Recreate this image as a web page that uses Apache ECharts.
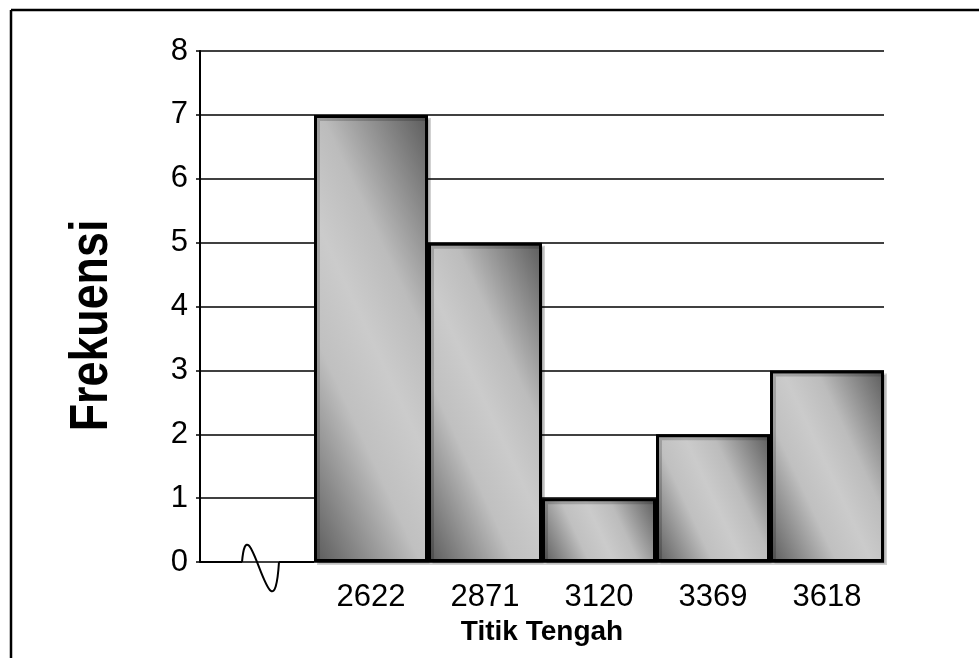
<!DOCTYPE html>
<html>
<head>
<meta charset="utf-8">
<script src="https://cdn.jsdelivr.net/npm/echarts@6/dist/echarts.min.js"></script>
<style>
html,body{margin:0;padding:0;background:#fff;}
#c{width:979px;height:658px;}
</style>
</head>
<body>
<div id="c"></div>
<script>
// Data
const categories = ['', '2622', '2871', '3120', '3369', '3618'];
const frequencies = ['-', 7, 5, 1, 2, 3];
const yTicks = [0, 1, 2, 3, 4, 5, 6, 7, 8];
const xTitle = 'Titik Tengah';
const yTitle = 'Frekuensi';

const W = 979, H = 658;
const gridCfg = {left: 200, right: 95, top: 51, bottom: 96};
const chart = echarts.init(document.getElementById('c'));

// gradient at a fixed pixel-space angle, independent of bar aspect
const plotW = W - gridCfg.left - gridCfg.right;
const plotH = H - gridCfg.top - gridCfg.bottom;
const yMax = yTicks[yTicks.length - 1];
function barGradient(value) {
  const w = plotW / categories.length;
  const h = Math.max(1, value / yMax * plotH);
  const a = 25 * Math.PI / 180;
  const L = w * Math.cos(a) + h * Math.sin(a);
  return new echarts.graphic.LinearGradient(0, 1, L * Math.cos(a) / w, 1 - L * Math.sin(a) / h, [
    {offset: 0, color: '#5a5a5a'},
    {offset: 0.33, color: '#c0c0c0'},
    {offset: 0.5, color: '#cbcbcb'},
    {offset: 0.67, color: '#bcbcbc'},
    {offset: 1, color: '#5b5b5b'}
  ]);
}

const option = {
  animation: false,
  grid: Object.assign({containLabel: false}, gridCfg),
  xAxis: {
    type: 'category',
    data: categories,
    axisLine: {show: false},
    axisTick: {show: false},
    axisLabel: {color: '#000', fontFamily: 'Liberation Sans, Arial', fontSize: 31, margin: 20},
    name: xTitle,
    nameLocation: 'middle',
    nameGap: 54,
    nameTextStyle: {color: '#000', fontFamily: 'Liberation Sans, Arial', fontWeight: 'bold', fontSize: 28}
  },
  yAxis: {
    type: 'value',
    min: yTicks[0],
    max: yMax,
    interval: 1,
    axisLine: {show: true, lineStyle: {color: '#000', width: 2}},
    axisTick: {show: true, length: 4, lineStyle: {color: '#000', width: 1.5}},
    axisLabel: {color: '#000', fontFamily: 'Liberation Sans, Arial', fontSize: 31, margin: 12},
    splitLine: {show: true, lineStyle: {color: '#000', width: 1.5}}
  },
  series: [{
    type: 'bar',
    data: frequencies.map(v => v === '-' ? v : {value: v, itemStyle: {color: barGradient(v)}}),
    barCategoryGap: 0,
    itemStyle: {
      borderColor: '#000',
      borderWidth: 3,
      shadowColor: 'rgba(0,0,0,0.18)',
      shadowOffsetX: 3,
      shadowOffsetY: 3,
      shadowBlur: 0
    }
  }]
};
chart.setOption(option);

// Decorations: outer frame, y title and axis break squiggle (positioned via the axes)
const p0 = chart.convertToPixel({gridIndex: 0}, [0, 0]);
const p1 = chart.convertToPixel({gridIndex: 0}, [1, 0]);
const pMid = chart.convertToPixel({gridIndex: 0}, [0, yMax / 2]);
const cx = p0[0], y0 = p0[1];
const half = (p1[0] - p0[0]) / 2;
const left = cx - half, barStart = cx + half;
chart.setOption({
  graphic: [
    {type: 'line', shape: {x1: 11, y1: 10, x2: W, y2: 10}, style: {stroke: '#000', lineWidth: 2.5}, silent: true},
    {type: 'line', shape: {x1: 11, y1: 10, x2: 11, y2: H}, style: {stroke: '#000', lineWidth: 2.5}, silent: true},
    {type: 'text', x: left - 108, y: pMid[1] + 19, rotation: Math.PI / 2, scaleX: 0.83,
      style: {text: yTitle, fill: '#000', font: 'bold 54px "Liberation Sans", Arial', align: 'center', verticalAlign: 'middle'}, silent: true},
    {type: 'line', shape: {x1: left, y1: y0, x2: cx - 15, y2: y0}, style: {stroke: '#000', lineWidth: 2}, silent: true},
    {type: 'bezierCurve', shape: {x1: cx - 15, y1: y0, cpx1: cx - 9, cpy1: y0 - 68, cpx2: cx + 16, cpy2: y0 + 92, x2: cx + 22, y2: y0}, style: {stroke: '#000', lineWidth: 2, fill: null}, silent: true},
    {type: 'line', shape: {x1: cx + 22, y1: y0, x2: barStart, y2: y0}, style: {stroke: '#000', lineWidth: 2}, silent: true}
  ]
});
</script>
</body>
</html>
